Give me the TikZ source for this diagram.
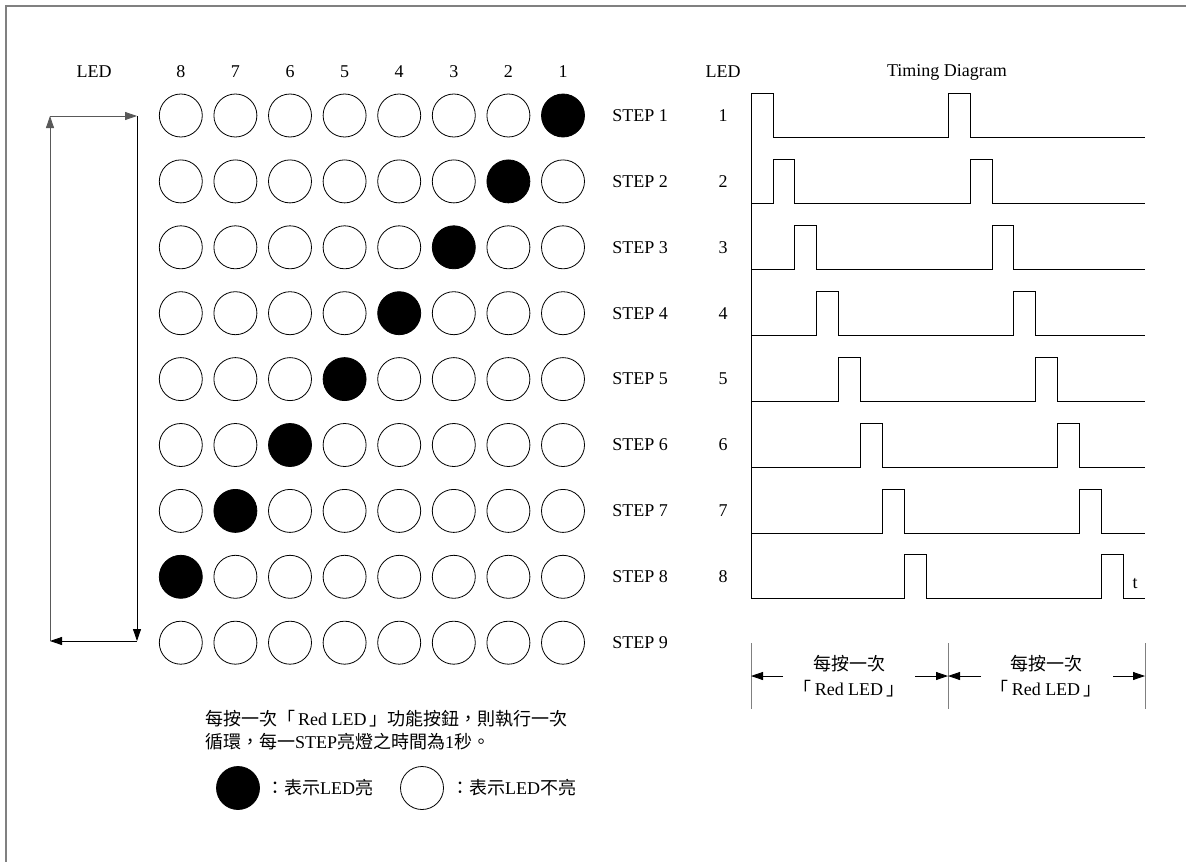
\documentclass[tikz,border=0pt]{standalone}
\usepackage{fontspec}
\setmainfont{Liberation Serif}
\newfontfamily\cjk{Noto Sans CJK TC}
\usetikzlibrary{arrows.meta}
\begin{document}
\begin{tikzpicture}[x=1pt,y=-1pt,
    lamp/.style={circle,draw,line width=0.8pt,minimum size=43pt,inner sep=0pt},
    lampon/.style={lamp,fill=black},
    lbl/.style={font=\fontsize{18}{23}\selectfont,inner sep=0pt},
    sig/.style={line width=0.8pt},
    tip/.style={-{Triangle[length=12pt,width=8pt]},line width=0.8pt}]
  \useasboundingbox (0,0) rectangle (1186,862);
  % frame
  \draw[gray,line width=1.2pt] (6,862) -- (6,6) -- (1186,6);
  %
  \node[lbl] (hled) at (94,72) {LED};
  \foreach \c in {1,...,8}
    \node[lbl] (h\c) at ({563-54.6*(\c-1)},72) {\c};
  % LED matrix
  \foreach \r in {1,...,9}{
    \pgfmathsetmacro\yy{115.5+65.9*(\r-1)}
    \foreach \c in {1,...,8}{
      \pgfmathsetmacro\xx{563-54.6*(\c-1)}
      \ifnum\c=\r
        \node[lampon] (l\r-\c) at (\xx,\yy) {};
      \else
        \node[lamp] (l\r-\c) at (\xx,\yy) {};
      \fi
    }
    \node[lbl] (step\r) at (640,\yy) {STEP \r};
  }
  % loop arrows
  \coordinate (lt) at (50,116);
  \coordinate (rt) at (137,116);
  \coordinate (rb) at (137,641);
  \coordinate (lb) at (50,641);
  \draw[tip,gray!70!black] (lb) -- (lt);
  \draw[tip,gray!70!black] (lt) -- (rt);
  \draw[tip] (rt) -- (rb);
  \draw[tip] (rb) -- (lb);
  % timing diagram
  \node[lbl] (tled) at (723,72) {LED};
  \node[lbl] (title) at (947,72) {Timing Diagram};
  \draw[sig] (751,93.5) -- (751,598.8);
  \foreach \k in {1,...,8}{
    \pgfmathsetmacro\yy{115.5+65.9*(\k-1)}
    \pgfmathsetmacro\yb{\yy+22}
    \pgfmathsetmacro\yh{\yy-22}
    \pgfmathsetmacro\xa{751+21.9*(\k-1)}
    \pgfmathsetmacro\xb{\xa+21.9}
    \pgfmathsetmacro\xc{\xa+9*21.9}
    \pgfmathsetmacro\xd{\xc+21.9}
    \node[lbl] (num\k) at (723,\yy) {\k};
    \draw[sig] (751,\yb) -- (\xa,\yb) -- (\xa,\yh) -- (\xb,\yh) -- (\xb,\yb)
      -- (\xc,\yb) -- (\xc,\yh) -- (\xd,\yh) -- (\xd,\yb) -- (1145,\yb);
  }
  \node[lbl] (t) at (1135,584) {t};
  % one press per period
  \foreach \x [count=\i] in {751,948,1145}{
    \coordinate (tk\i) at (\x,676);
    \draw[gray,line width=1pt] (\x,643) -- (\x,709);
  }
  \coordinate (a1) at (783,676);
  \coordinate (a2) at (915,676);
  \coordinate (a3) at (981,676);
  \coordinate (a4) at (1113,676);
  \draw[tip] (a1) -- (tk1);
  \draw[tip] (a2) -- (tk2);
  \draw[tip] (a3) -- (tk2);
  \draw[tip] (a4) -- (tk3);
  \node[lbl] (press1) at (849,664) {\cjk 每按一次};
  \node[lbl] (red1) at (849,689) {{\cjk 「}\,Red LED\,{\cjk 」}};
  \node[lbl] (press2) at (1046,664) {\cjk 每按一次};
  \node[lbl] (red2) at (1046,689) {{\cjk 「}\,Red LED\,{\cjk 」}};
  % note and legend
  \node[lbl,anchor=north west,align=left] (note) at (205,710)
    {{\cjk 每按一次「}\,Red LED\,{\cjk 」功能按鈕，則執行一次}\\
     {\cjk 循環，每一}STEP{\cjk 亮燈之時間為}1{\cjk 秒。}};
  \node[lampon] (keyon) at (238,788) {};
  \node[lbl,anchor=west] (keyontxt) at (266,788) {{\cjk ：表示}LED{\cjk 亮}};
  \node[lamp] (keyoff) at (422,788) {};
  \node[lbl,anchor=west] (keyofftxt) at (451,788) {{\cjk ：表示}LED{\cjk 不亮}};
\end{tikzpicture}
\end{document}
